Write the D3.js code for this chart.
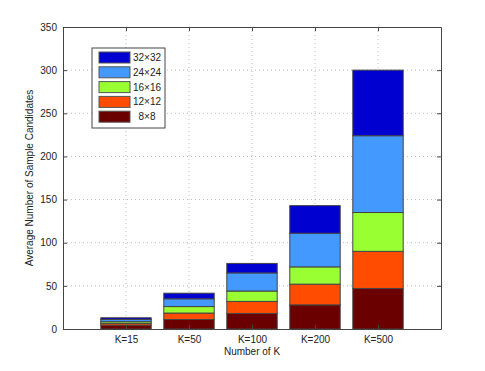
<!DOCTYPE html>
<html>
<head>
<meta charset="utf-8">
<script src="https://cdn.jsdelivr.net/npm/d3@7"></script>
<style>
  body { margin: 0; background: #fff; }
  text { font-family: "Liberation Sans", Arial, sans-serif; }
</style>
</head>
<body>
<svg id="chart" width="485" height="371"></svg>
<script>
// categories and series (cumulative, stored as segment sizes)
const categories = ["K=15", "K=50", "K=100", "K=200", "K=500"];
const seriesNames = ["8\u00d78", "12\u00d712", "16\u00d716", "24\u00d724", "32\u00d732"];
const s8 = [4.5, 11, 18, 28, 47];
const s12 = [2, 7.5, 14, 24, 43];
const s16 = [2, 7.5, 12, 20, 45];
const s24 = [2.5, 9, 21, 39, 89];
const s32 = [2, 6.5, 11, 32, 76];
const colors = ["#6b0000", "#ff4c00", "#99ff33", "#4499ff", "#0000d0"];
const yTicks = [0, 50, 100, 150, 200, 250, 300, 350];

const svg = d3.select("#chart");
const margin = {left: 63, right: 44, top: 27, bottom: 42};
const width = +svg.attr("width") - margin.left - margin.right;
const height = +svg.attr("height") - margin.top - margin.bottom;
const g = svg.append("g").attr("transform", `translate(${margin.left},${margin.top})`);

// build rows for the stack
const table = categories.map((c, i) => {
    const row = {cat: c};
    [s8, s12, s16, s24, s32].forEach((s, j) => row[seriesNames[j]] = s[i]);
    return row;
});
const stacked = d3.stack().keys(seriesNames)(table);

// x: categories centred at 1..5 on a 0..6 range, like matlab
const x = d3.scaleLinear().domain([0, 6]).range([0, width]);
const y = d3.scaleLinear().domain([0, 350]).range([height, 0]);
const barW = x(0.8) - x(0);

// grid
g.append("g").selectAll("line").data(yTicks.slice(1, -1)).enter().append("line")
    .attr("x1", 0).attr("x2", width)
    .attr("y1", d => y(d)).attr("y2", d => y(d))
    .attr("stroke", "#aaa").attr("stroke-width", 0.8).attr("stroke-dasharray", "1,3");
g.append("g").selectAll("line").data(categories).enter().append("line")
    .attr("x1", (d, i) => x(i + 1)).attr("x2", (d, i) => x(i + 1))
    .attr("y1", 0).attr("y2", height)
    .attr("stroke", "#aaa").attr("stroke-width", 0.8).attr("stroke-dasharray", "1,3");

// bars
g.selectAll("g.layer").data(stacked).enter().append("g")
    .attr("class", "layer")
    .attr("fill", (d, i) => colors[i])
    .selectAll("rect").data(d => d).enter().append("rect")
    .attr("x", (d, i) => x(i + 1) - barW / 2)
    .attr("y", d => y(d[1]))
    .attr("width", barW)
    .attr("height", d => y(d[0]) - y(d[1]))
    .attr("stroke", "#444").attr("stroke-width", 1);

// axes (box on, ticks inside)
const yAxisL = d3.axisLeft(y).tickValues(yTicks).tickSizeInner(-4).tickSizeOuter(0).tickPadding(6);
const yAxisR = d3.axisRight(y).tickValues(yTicks).tickSizeInner(-4).tickSizeOuter(0).tickFormat("");
const xAxisB = d3.axisBottom(x).tickValues([1, 2, 3, 4, 5]).tickSizeInner(-4).tickSizeOuter(0)
    .tickPadding(7).tickFormat(d => categories[d - 1]);
const xAxisT = d3.axisTop(x).tickValues([1, 2, 3, 4, 5]).tickSizeInner(-4).tickSizeOuter(0).tickFormat("");

[
    g.append("g").call(yAxisL),
    g.append("g").attr("transform", `translate(${width},0)`).call(yAxisR),
    g.append("g").attr("transform", `translate(0,${height})`).call(xAxisB),
    g.append("g").call(xAxisT)
].forEach(a => {
    a.select(".domain").attr("stroke", "#444");
    a.selectAll(".tick line").attr("stroke", "#444");
    a.selectAll("text").attr("font-size", 10).attr("fill", "#222")
        .style("font-family", "'Liberation Sans', Arial, sans-serif");
});

// axis titles
g.append("text")
    .attr("x", width / 2).attr("y", height + 26)
    .attr("text-anchor", "middle").attr("font-size", 10).attr("fill", "#222")
    .text("Number of K");
g.append("text")
    .attr("transform", `translate(-30,${height / 2}) rotate(-90)`)
    .attr("text-anchor", "middle").attr("font-size", 10).attr("fill", "#222")
    .text("Average Number of Sample Candidates");

// legend
const legend = svg.append("g").attr("transform", "translate(92,48)");
legend.append("rect").attr("width", 73).attr("height", 80)
    .attr("fill", "#fff").attr("stroke", "#444").attr("stroke-width", 1);
const order = [4, 3, 2, 1, 0];
const item = legend.selectAll("g.item").data(order).enter().append("g")
    .attr("class", "item")
    .attr("transform", (d, i) => `translate(0,${9.5 + i * 14.8})`);
item.append("rect")
    .attr("x", 7).attr("y", -5.5).attr("width", 31).attr("height", 11)
    .attr("fill", d => colors[d]).attr("stroke", "#555").attr("stroke-width", 1);
item.append("text")
    .attr("x", 55).attr("y", 3.5)
    .attr("text-anchor", "middle").attr("font-size", 10).attr("fill", "#222")
    .text(d => seriesNames[d]);
</script>
</body>
</html>
